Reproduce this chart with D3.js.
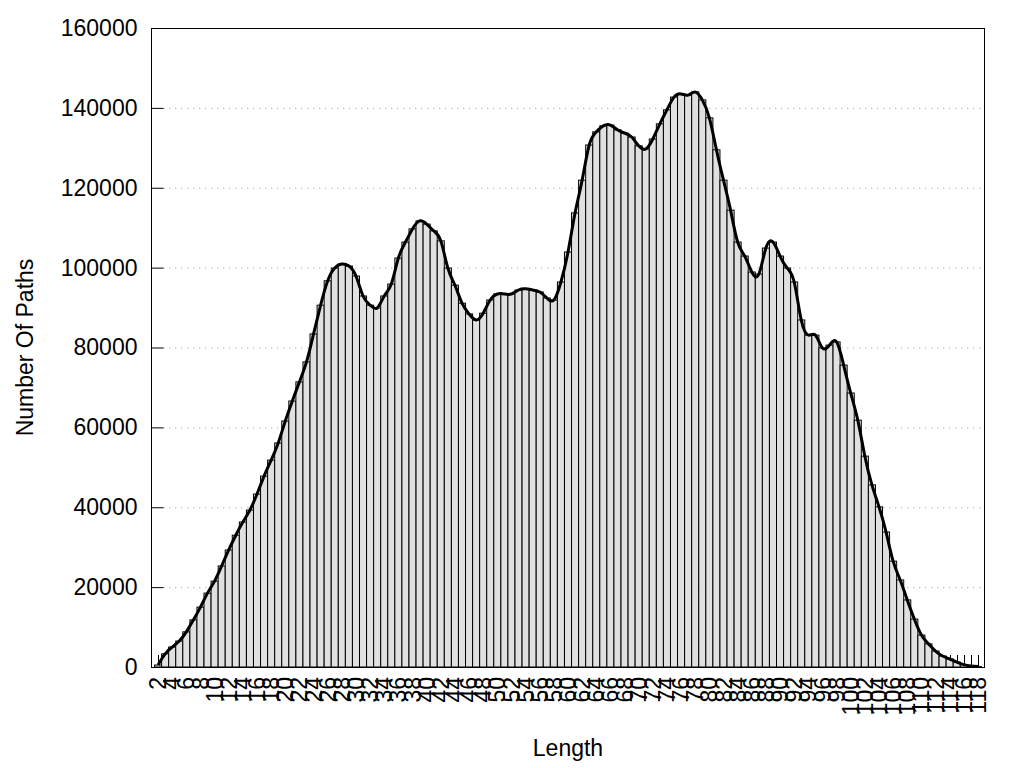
<!DOCTYPE html>
<html>
<head>
<meta charset="utf-8">
<script src="https://cdn.jsdelivr.net/npm/d3@7"></script>
<style>
  html, body { margin: 0; padding: 0; background: #fff; }
  svg { display: block; font-family: "Liberation Sans", Arial, sans-serif; }
</style>
</head>
<body>
<svg id="chart" width="1024" height="768"></svg>
<script>
// Path lengths (categories)
const lengths = d3.range(2, 119);
// Number of paths per length
const counts = [
  500, 3300, 5000, 6500, 8800, 11800, 15000, 18500, 21500, 25300,
  29300, 33000, 36300, 39300, 43300, 47800, 51800, 56100, 61600, 66600,
  71400, 76400, 83400, 90600, 96700, 99900, 100900, 100400, 97900, 92900,
  90600, 89900, 92900, 95900, 102400, 106400, 109700, 111700, 110900, 109200,
  106700, 99900, 95600, 91100, 88400, 86900, 88600, 91900, 93400, 93400,
  93400, 94400, 94700, 94400, 93900, 92400, 91900, 96400, 103900, 113700,
  121900, 130700, 134000, 135500, 135700, 134500, 133700, 132700, 130500, 129700,
  132200, 136000, 139500, 142700, 143500, 143200, 144000, 142000, 137500, 129500,
  121900, 114400, 106400, 102900, 98900, 98400, 104900, 106400, 102900, 99900,
  96400, 86900, 83100, 83100, 79900, 80600, 81400, 75600, 68600, 61800,
  52800, 45600, 40100, 33800, 26500, 21800, 16800, 12000, 8000, 5800,
  4000, 2750, 2000, 1250, 600, 250, 100
];
// Tick labels (only even lengths are labelled)
const xTickLabels = lengths.map(l => (l % 2 === 0 ? String(l) : ""));
const yTicks = [0, 20000, 40000, 60000, 80000, 100000, 120000, 140000, 160000];
const xTitle = "Length";
const yTitle = "Number Of Paths";

const data = lengths.map((l, i) => ({ len: l, value: counts[i], label: xTickLabels[i] }));

const svg = d3.select("#chart");
const pLeft = 151, pRight = 985, pTop = 28, pBottom = 667;

const x = d3.scaleLinear().domain([lengths[0] - 1, lengths[lengths.length - 1] + 1]).range([pLeft, pRight]);
const y = d3.scaleLinear().domain([0, 160000]).range([pBottom, pTop]);

const fontSize = 23;

// grid lines
svg.append("g")
  .selectAll("line")
  .data(yTicks.filter(t => t > 0 && t < 160000))
  .join("line")
  .attr("x1", pLeft + 12).attr("x2", pRight)
  .attr("y1", d => y(d) + 0.5).attr("y2", d => y(d) + 0.5)
  .attr("stroke", "#b8b8b8").attr("stroke-width", 1)
  .attr("stroke-dasharray", "1.5,4.5");

// x ticks (behind bars)
svg.append("g")
  .selectAll("line")
  .data(data)
  .join("line")
  .attr("x1", d => Math.round(x(d.len)) + 0.5).attr("x2", d => Math.round(x(d.len)) + 0.5)
  .attr("y1", pBottom).attr("y2", pBottom - 12)
  .attr("stroke", "#000").attr("stroke-width", 1);

// bars
svg.append("g")
  .selectAll("rect")
  .data(data)
  .join("rect")
  .attr("x", d => x(d.len - 0.5))
  .attr("width", d => x(d.len + 0.5) - x(d.len - 0.5))
  .attr("y", d => y(d.value))
  .attr("height", d => pBottom - y(d.value))
  .attr("fill", "#e0e0e0")
  .attr("stroke", "#000")
  .attr("stroke-width", 1);

// y ticks
const yAxis = d3.axisLeft(y).tickValues(yTicks).tickSize(-12).tickPadding(14).tickFormat(d3.format("d"));
const gy = svg.append("g").attr("transform", `translate(${pLeft + 0.5},0)`).call(yAxis);
gy.select(".domain").remove();
gy.selectAll(".tick line").attr("stroke", "#000");
gy.selectAll(".tick text")
  .attr("font-size", fontSize)
  .attr("font-family", "Liberation Sans, Arial, sans-serif")
  .attr("fill", "#000")
  .attr("x", -14);

// x tick labels, rotated
svg.append("g")
  .selectAll("text")
  .data(data.filter(d => d.label !== ""))
  .join("text")
  .attr("transform", d => `translate(${x(d.len)},${pBottom + 10}) rotate(-90)`)
  .attr("text-anchor", "end")
  .attr("dy", "0.35em")
  .attr("font-size", fontSize)
  .attr("fill", "#000")
  .text(d => d.label);

// smooth curve
const line = d3.line()
  .x(d => x(d.len))
  .y(d => y(d.value))
  .curve(d3.curveNatural);
svg.append("path")
  .datum(data)
  .attr("d", line)
  .attr("fill", "none")
  .attr("stroke", "#000")
  .attr("stroke-width", 3)
  .attr("stroke-linejoin", "round");

// border
svg.append("rect")
  .attr("x", pLeft + 0.5).attr("y", pTop + 0.5)
  .attr("width", pRight - pLeft - 1).attr("height", pBottom - pTop)
  .attr("fill", "none").attr("stroke", "#000").attr("stroke-width", 1);

// axis titles
svg.append("text")
  .attr("x", (pLeft + pRight) / 2).attr("y", 756)
  .attr("text-anchor", "middle")
  .attr("font-size", 23)
  .text(xTitle);

svg.append("text")
  .attr("transform", `translate(33,${(pTop + pBottom) / 2}) rotate(-90)`)
  .attr("text-anchor", "middle")
  .attr("font-size", 23)
  .text(yTitle);
</script>
</body>
</html>
